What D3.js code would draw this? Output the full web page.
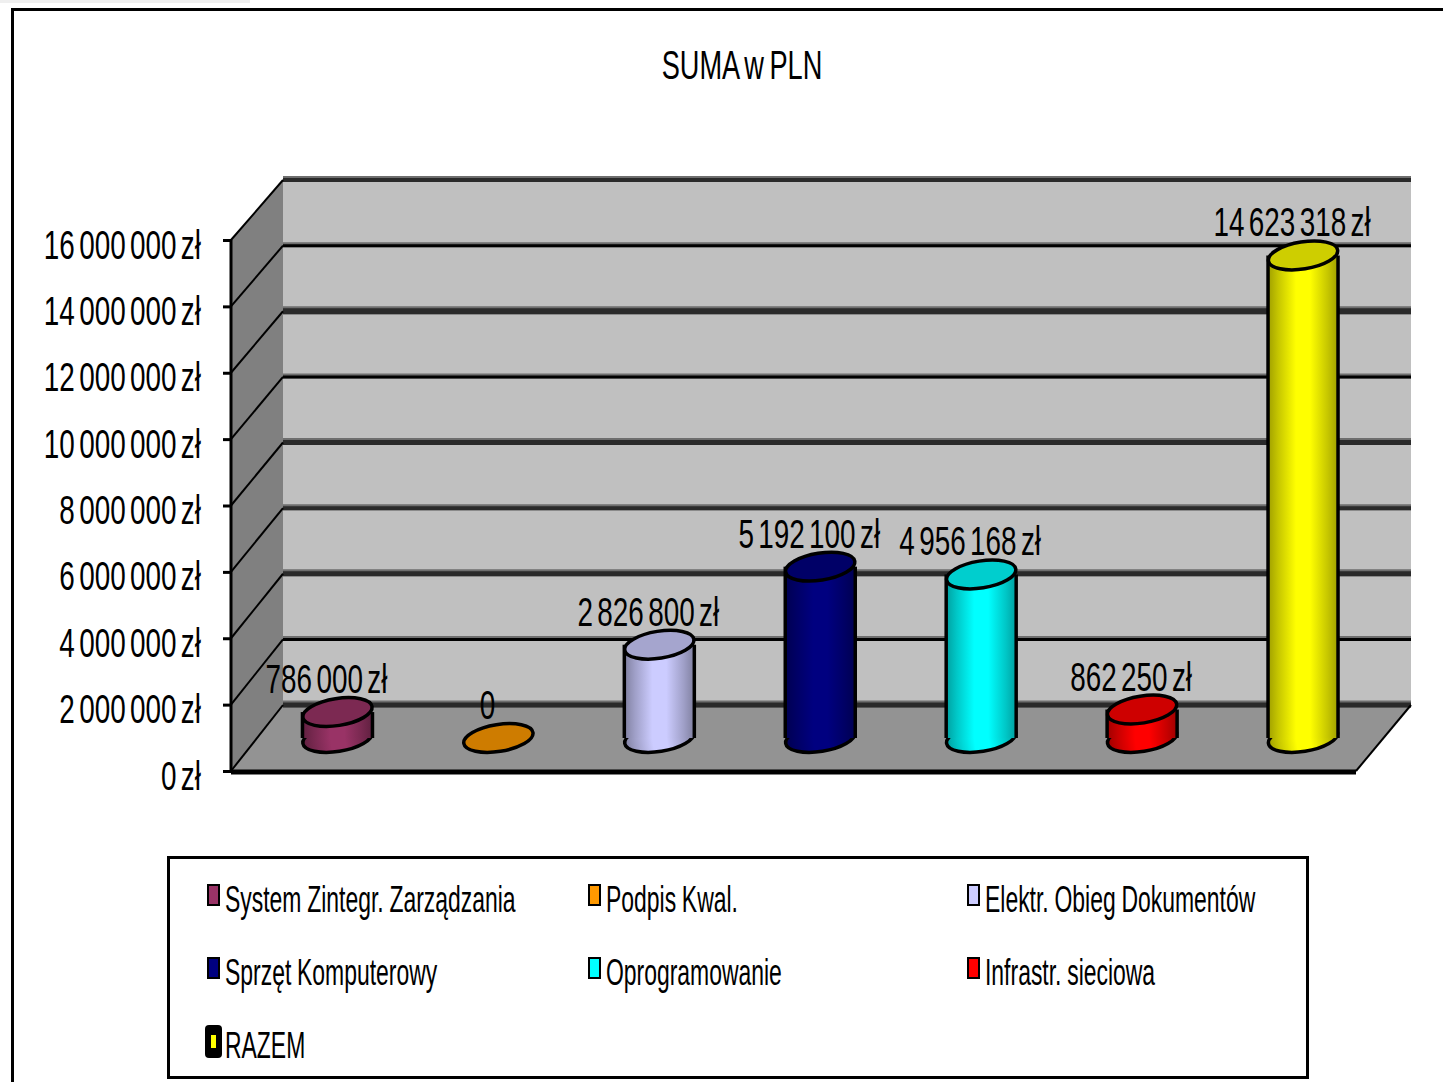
<!DOCTYPE html>
<html>
<head>
<meta charset="utf-8">
<script src="https://cdn.jsdelivr.net/npm/d3@7"></script>
<style>
  html, body { margin: 0; padding: 0; background: #fff; overflow: hidden; }
  text { font-family: "Liberation Sans", Arial, sans-serif; fill: #000; }
</style>
</head>
<body>
<div id="chart"></div>
<script>
const categories = ["System Zintegr. Zarządzania", "Podpis Kwal.", "Elektr. Obieg Dokumentów", "Sprzęt Komputerowy", "Oprogramowanie", "Infrastr. sieciowa", "RAZEM"];
const values = [786000, 0, 2826800, 5192100, 4956168, 862250, 14623318];
const colors = ["#993366", "#ff9900", "#ccccff", "#000080", "#00ffff", "#ff0000", "#ffff00"];
const tickValues = [0, 2000000, 4000000, 6000000, 8000000, 10000000, 12000000, 14000000, 16000000];
const title = "SUMA w PLN";

const w = 1443;
const h = 1082;
const squeeze = 0.68;
const tightGap = -5;

// grid weights vary in the original, one per tick
const gridWidths = [5, 3, 5, 4, 5, 3, 6, 3, 4];

const pl = d3.formatLocale({decimal: ",", thousands: " ", grouping: [3], currency: ["", " zł"]});
const money = pl.format("$,");

// front edge and back wall of the 3d box
const yFront = d3.scaleLinear().domain([0, 16000000]).range([771, 240]);
const yBack = d3.scaleLinear().domain([0, 16000000]).range([705, 180]);
const yMid = v => (yFront(v) + yBack(v)) / 2;
const xFront = 231, xBack = 283, xFrontEnd = 1356, xBackEnd = 1411;
const x = d3.scaleBand().domain(categories).range([(xFront + xBack) / 2, (xFrontEnd + xBackEnd) / 2]);

const svg = d3.select("#chart").append("svg").attr("width", w).attr("height", h);

svg.append("rect").attr("width", 250).attr("height", 3).attr("fill", "#efefef");

// outer frame, runs off the picture on the right and bottom
svg.append("path")
  .attr("d", `M12.5,${h}V9.5H${w}`)
  .attr("fill", "none").attr("stroke", "#000").attr("stroke-width", 3);

function label(parent, str, px, py, size, anchor, sx, gap) {
  return parent.append("text")
    .attr("transform", `translate(${px},${py}) scale(${sx},1)`)
    .attr("text-anchor", anchor)
    .attr("font-size", size)
    .attr("word-spacing", gap)
    .text(str);
}

label(svg, title, 742, 79, 40, "middle", squeeze, -3);

// box
svg.append("polygon")
  .attr("points", [[xBack, yBack(16000000)], [xBackEnd, yBack(16000000)], [xBackEnd, yBack(0)], [xBack, yBack(0)]].join(" "))
  .attr("fill", "#c0c0c0");
svg.append("polygon")
  .attr("points", [[xFront, yFront(0)], [xFront, yFront(16000000)], [xBack, yBack(16000000)], [xBack, yBack(0)]].join(" "))
  .attr("fill", "#808080");
svg.append("polygon")
  .attr("points", [[xFront, yFront(0)], [xBack, yBack(0)], [xBackEnd, yBack(0)], [xFrontEnd, yFront(0)]].join(" "))
  .attr("fill", "#939393");

// grid on back wall and its diagonals on the side wall
const grid = svg.append("g");
grid.selectAll(".shade").data(tickValues).enter().append("line")
  .attr("x1", xBack).attr("x2", xBackEnd)
  .attr("y1", d => yBack(d) - 1).attr("y2", d => yBack(d) - 1)
  .attr("stroke", "#6e6e6e").attr("stroke-width", (d, i) => gridWidths[i] + 2);
grid.selectAll(".back").data(tickValues).enter().append("line")
  .attr("x1", xBack).attr("x2", xBackEnd)
  .attr("y1", d => yBack(d)).attr("y2", d => yBack(d))
  .attr("stroke", (d, i) => gridWidths[i] > 3 ? "#2a2a2a" : "#000")
  .attr("stroke-width", (d, i) => gridWidths[i]);
grid.selectAll(".side").data(tickValues).enter().append("line")
  .attr("x1", xFront).attr("x2", xBack)
  .attr("y1", d => yFront(d)).attr("y2", d => yBack(d))
  .attr("stroke", "#000").attr("stroke-width", 2);

// box edges
svg.append("line").attr("x1", xFront).attr("x2", xFrontEnd)
  .attr("y1", yFront(0) + 1).attr("y2", yFront(0) + 1)
  .attr("stroke", "#000").attr("stroke-width", 5);
svg.append("line").attr("x1", xFrontEnd).attr("x2", xBackEnd)
  .attr("y1", yFront(0)).attr("y2", yBack(0))
  .attr("stroke", "#000").attr("stroke-width", 2);

// y axis
const axis = svg.append("g")
  .attr("transform", `translate(${xFront},0)`)
  .call(d3.axisLeft(yFront).tickValues(tickValues).tickSize(8).tickFormat(money));
axis.select(".domain").attr("stroke-width", 3).attr("d", `M0,${yFront(16000000)}V${yFront(0)}`);
axis.selectAll(".tick line").attr("stroke-width", 3);
axis.selectAll(".tick text")
  .attr("x", 0).attr("dy", null).attr("y", 0)
  .attr("font-size", 41)
  .attr("font-family", null)
  .attr("word-spacing", tightGap)
  .attr("text-anchor", "end")
  .attr("transform", `translate(-30,18) scale(${squeeze},1)`);

// gradients for the cylinder sides
const defs = svg.append("defs");
colors.forEach((c, i) => {
  const g = defs.append("linearGradient").attr("id", "cyl" + i);
  [[0, 1.3], [0.15, 0.7], [0.4, 0], [0.6, 0], [0.85, 0.7], [1, 1.3]].forEach(([o, k]) => {
    g.append("stop").attr("offset", o).attr("stop-color", d3.color(c).darker(k).formatHex());
  });
});

const rx = 35, ry = 13.5, tilt = -9;
const bars = svg.selectAll(".bar").data(values).enter().append("g").attr("class", "bar");

bars.each(function(v, i) {
  const g = d3.select(this);
  const cx = x(categories[i]) + x.bandwidth() / 2;
  const base = yMid(0);
  const top = yMid(v);
  const fill = `url(#cyl${i})`;
  if (v > 0) {
    g.append("ellipse")
      .attr("rx", rx).attr("ry", ry)
      .attr("transform", `translate(${cx},${base}) rotate(${tilt})`)
      .attr("fill", fill).attr("stroke", "#000").attr("stroke-width", 3.5);
    g.append("rect")
      .attr("x", cx - rx).attr("width", rx * 2)
      .attr("y", top).attr("height", base - top)
      .attr("fill", fill);
    g.selectAll(".edge").data([-rx, rx]).enter().append("line")
      .attr("x1", d => cx + d).attr("x2", d => cx + d)
      .attr("y1", top).attr("y2", base)
      .attr("stroke", "#000").attr("stroke-width", 3.5);
  }
  g.append("ellipse")
    .attr("rx", rx).attr("ry", ry)
    .attr("transform", `translate(${cx},${top}) rotate(${tilt})`)
    .attr("fill", d3.color(colors[i]).darker(0.6).formatHex())
    .attr("stroke", "#000").attr("stroke-width", 3.5);
  label(svg, v === 0 ? "0" : money(v), cx - 11, top - 19, 41, "middle", squeeze, tightGap);
});

// legend
svg.append("rect").attr("x", 168.5).attr("y", 857.5).attr("width", 1139).attr("height", 220)
  .attr("fill", "none").attr("stroke", "#000").attr("stroke-width", 3);

const legendX = d3.scaleOrdinal().domain([0, 1, 2]).range([207, 588, 967]);
const legendY = d3.scaleLinear().domain([0, 2]).range([895, 1041]);

categories.forEach((c, i) => {
  const col = i % 3, row = Math.floor(i / 3);
  const lx = legendX(col), ly = legendY(row);
  const last = i === categories.length - 1;
  if (last) {
    // the last key is blown up in the original: mostly black with a small yellow core
    svg.append("rect").attr("x", lx - 2).attr("y", ly - 16)
      .attr("width", 17).attr("height", 33).attr("rx", 4).attr("fill", "#000");
    svg.append("rect").attr("x", lx + 4).attr("y", ly - 6)
      .attr("width", 5).attr("height", 13).attr("fill", colors[i]);
  } else {
    svg.append("rect")
      .attr("x", lx + 1).attr("y", ly - 10)
      .attr("width", 11).attr("height", 20)
      .attr("fill", colors[i])
      .attr("stroke", "#000")
      .attr("stroke-width", 2);
  }
  label(svg, c, lx + 18, ly + 17, 37, "start", 0.62, -1);
});
</script>
</body>
</html>
